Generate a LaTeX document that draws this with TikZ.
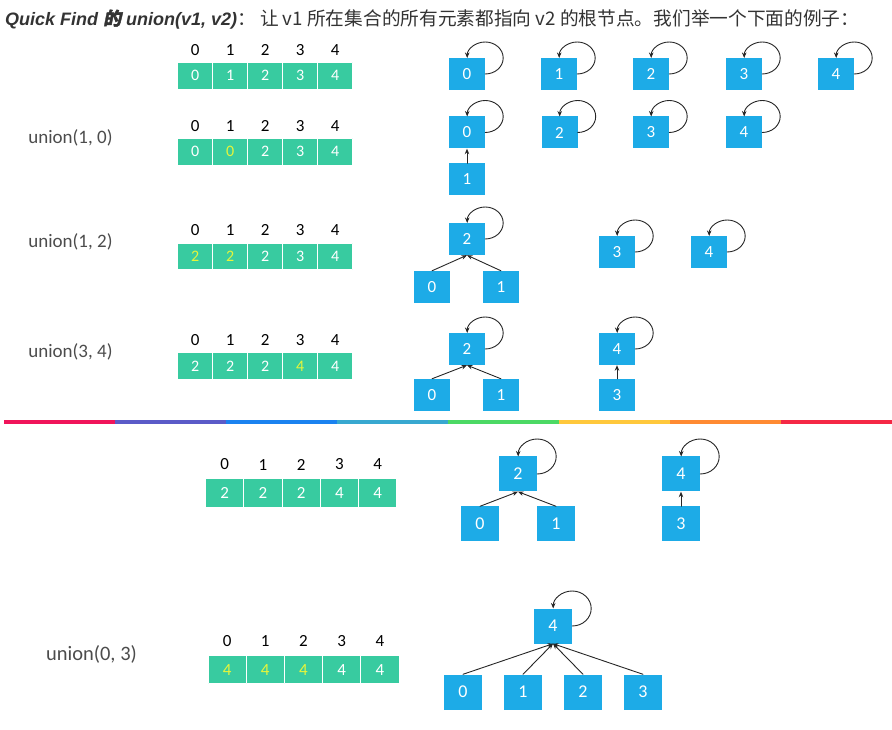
\documentclass[tikz,border=0pt]{standalone}
\usepackage{fontspec}
\usetikzlibrary{arrows.meta}
\setmainfont{Carlito}
\newfontfamily\cjk{Noto Sans CJK SC}
\newfontfamily\cjkbi[FakeSlant=0.2,FakeBold=2]{Noto Sans CJK SC}
\newfontfamily\headbi{Liberation Sans}
\definecolor{qgreen}{HTML}{38CBA0}
\definecolor{qblue}{HTML}{1DABE7}
\definecolor{qyellow}{HTML}{E6F53A}
\definecolor{rb1}{HTML}{F0145A}
\definecolor{rb2}{HTML}{5B5BC8}
\definecolor{rb3}{HTML}{1A82F0}
\definecolor{rb4}{HTML}{38A8D0}
\definecolor{rb5}{HTML}{4CD964}
\definecolor{rb6}{HTML}{FFC83C}
\definecolor{rb7}{HTML}{FF8A32}
\definecolor{rb8}{HTML}{F52845}
\newcommand{\hl}[1]{\textcolor{qyellow}{#1}}
\begin{document}
\begin{tikzpicture}[x=1pt,y=1pt,>={Stealth[length=5.5pt,width=4.5pt]}, line join=round, line cap=round,
	cell/.style={draw=white,line width=1pt,fill=qgreen,text=white,minimum width=35pt,minimum height=26.7pt,inner sep=0pt,font=\fontsize{16}{16}\selectfont},
	bigcell/.style={cell,minimum width=38.2pt,minimum height=28.4pt,font=\fontsize{17}{17}\selectfont},
	idx/.style={inner sep=0pt,font=\fontsize{17}{17}\selectfont},
	tnode/.style={fill=qblue,text=white,minimum width=36pt,minimum height=32pt,inner sep=0pt,font=\fontsize{17}{17}\selectfont},
	bignode/.style={tnode,minimum width=38pt,minimum height=35pt,font=\fontsize{18}{18}\selectfont},
	lbl/.style={text=black!70,inner sep=0pt,font=\fontsize{19}{19}\selectfont},
	link/.style={->,line width=0.9pt,black!85}]
	\useasboundingbox (0,0) rectangle (892,729);
	\def\qfrow#1#2#3#4#5#6{% name, style, first x, pitch, y, values
		\foreach \v [count=\k from 0] in {#6} {
			\node[#2] (#1\k) at (#3+#4*\k,#5) {\v};
			\node[idx] (#1i\k) at (#3+#4*\k,#5+0.745*#4) {\k};}}
	\def\selfloop#1#2#3{\draw[link] (#1.east) arc[start angle=-90,end angle=180,x radius=#2,y radius=#3];}
	% header
	\node[anchor=west,inner sep=0pt,text=black!80,font=\fontsize{18}{20}\selectfont] (head) at (5,710)
		{{\headbi\bfseries\itshape Quick Find {\cjkbi 的} union(v1, v2)}{\cjk\fontsize{18.7}{20}\selectfont ：\ 让 v1 所在集合的所有元素都指向 v2 的根节点。我们举一个下面的例子：}};
	% arrays
	\qfrow{r1}{cell}{195.2}{35}{653.3}{0,1,2,3,4}
	\qfrow{r2}{cell}{195.2}{35}{577.3}{0,\hl{0},2,3,4}
	\qfrow{r3}{cell}{195.2}{35}{472.5}{\hl{2},\hl{2},2,3,4}
	\qfrow{r4}{cell}{195.2}{35}{363}{2,2,2,\hl{4},4}
	\qfrow{r5}{bigcell}{224.8}{38.2}{236}{2,2,2,4,4}
	\qfrow{r6}{bigcell}{227.1}{38.2}{59.3}{\hl{4},\hl{4},\hl{4},4,4}
	\node[lbl] (u1) at (70.5,591) {union(1, 0)};
	\node[lbl] (u2) at (70.5,487) {union(1, 2)};
	\node[lbl] (u3) at (70.5,377) {union(3, 4)};
	\node[lbl,font=\fontsize{20.5}{20.5}\selectfont] (u4) at (91.5,75) {union(0, 3)};
	% row 1
	\foreach \k/\x in {0/467,1/559,2/651,3/744,4/836} {
		\node[tnode] (a\k) at (\x,655) {\k};
		\selfloop{a\k}{18}{16}}
	% row 2
	\node[tnode] (b0) at (467,596.5) {0};
	\node[tnode] (b1) at (467,549.5) {1};
	\selfloop{b0}{18}{16}
	\draw[link] (b1) -- (b0);
	\foreach \k/\x in {2/559.5,3/651,4/744} {
		\node[tnode] (b\k) at (\x,596.5) {\k};
		\selfloop{b\k}{18}{16}}
	% row 3
	\node[tnode] (c2) at (467,490) {2};
	\node[tnode] (c0) at (432,442) {0};
	\node[tnode] (c1) at (501,442) {1};
	\node[tnode] (c3) at (617,477) {3};
	\node[tnode] (c4) at (709,477) {4};
	\foreach \n in {c2,c3,c4} {\selfloop{\n}{18}{16}}
	\draw[link] (c0.north) -- (c2.south);
	\draw[link] (c1.north) -- (c2.south);
	% row 4
	\node[tnode] (d2) at (467,380) {2};
	\node[tnode] (d0) at (432,334) {0};
	\node[tnode] (d1) at (501,334) {1};
	\node[tnode] (d4) at (617,380) {4};
	\node[tnode] (d3) at (617,334) {3};
	\foreach \n in {d2,d4} {\selfloop{\n}{18}{16}}
	\draw[link] (d0.north) -- (d2.south);
	\draw[link] (d1.north) -- (d2.south);
	\draw[link] (d3) -- (d4);
	% divider
	\foreach \k in {1,...,8} {\fill[rb\k] (4+111*\k-111,305) rectangle ++(111,4);}
	% row 5
	\node[bignode] (e2) at (518,255) {2};
	\node[bignode] (e0) at (480,205) {0};
	\node[bignode] (e1) at (556,205) {1};
	\node[bignode] (e4) at (681,255) {4};
	\node[bignode] (e3) at (681,205) {3};
	\foreach \n in {e2,e4} {\selfloop{\n}{19}{17.5}}
	\draw[link] (e0.north) -- (e2.south);
	\draw[link] (e1.north) -- (e2.south);
	\draw[link] (e3) -- (e4);
	% row 6
	\node[bignode] (f4) at (553,103) {4};
	\selfloop{f4}{19}{17.5}
	\foreach \k/\x in {0/463,1/523,2/583,3/643} {
		\node[bignode] (f\k) at (\x,37) {\k};
		\draw[link] (f\k.north) -- (f4.south);}
\end{tikzpicture}
\end{document}
